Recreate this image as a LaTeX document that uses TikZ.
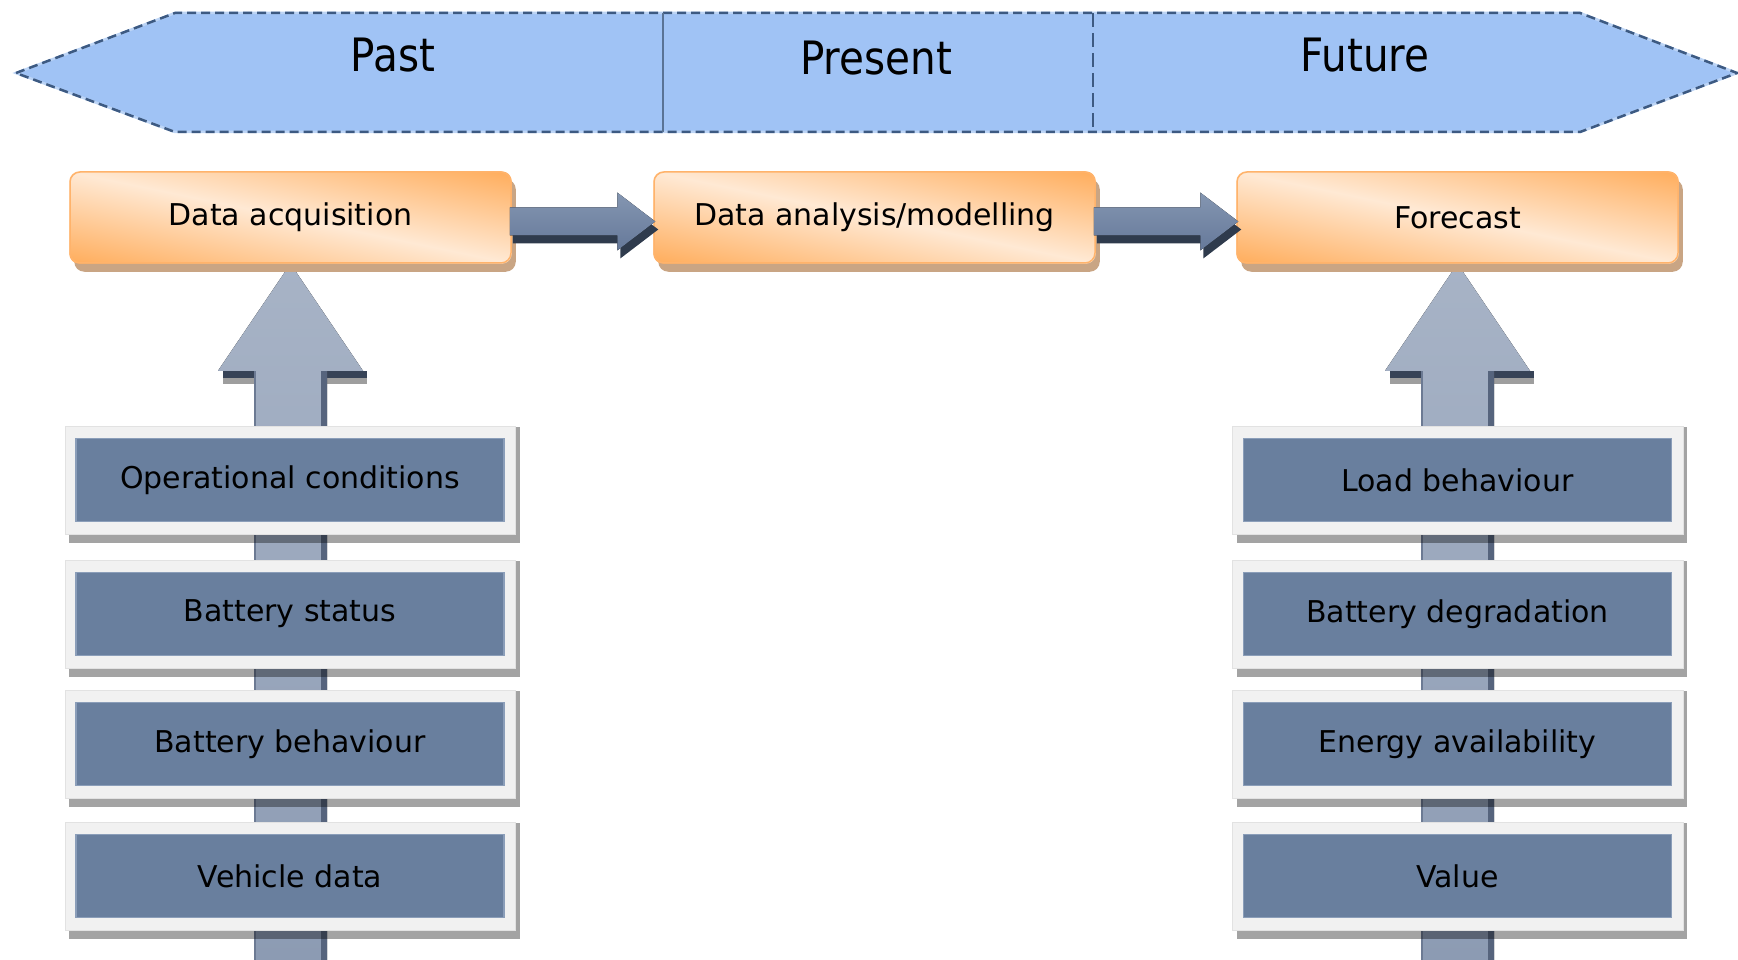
\documentclass[tikz,border=0pt]{standalone}
\usepackage{fontspec}
\setmainfont{DejaVu Sans}
\usetikzlibrary{calc}
\definecolor{bannerfill}{HTML}{A0C3F5}
\definecolor{bannerlight}{HTML}{BCD4F5}
\definecolor{bannerline}{HTML}{3D5A82}
\definecolor{orA}{HTML}{FFAE5E}
\definecolor{orB}{HTML}{FFE9D4}
\definecolor{obord}{HTML}{FFB36B}
\definecolor{oshadow}{HTML}{C9A584}
\definecolor{dbox}{HTML}{697F9E}
\definecolor{dboxl}{HTML}{8B9EB9}
\definecolor{framec}{HTML}{F1F1F1}
\definecolor{framel}{HTML}{E2E2E2}
\definecolor{arrtop}{HTML}{A7B3C6}
\definecolor{arrbot}{HTML}{8C9BB3}
\definecolor{arredge}{HTML}{56647D}
\definecolor{arrdark}{HTML}{374357}
\definecolor{harrtop}{HTML}{8496B1}
\definecolor{harrbot}{HTML}{66799A}
\definecolor{harrsh}{HTML}{2F3B4D}
\pgfdeclarelayer{bg}
\pgfdeclarelayer{mid}
\pgfsetlayers{bg,mid,main}
\newcommand\lblfont{\fontsize{30}{36}\selectfont}
\newcommand\banfont{\fontsize{46}{54}\selectfont}
\tikzset{
  obox/.style={rounded corners=10pt, minimum width=441pt, minimum height=91pt,
    draw=obord, line width=1.5pt, font=\lblfont, inner sep=0pt},
  dboxs/.style={fill=dbox, draw=dboxl, line width=1.5pt, minimum width=428pt,
    minimum height=83pt, inner sep=0pt, font=\lblfont},
  btext/.style={font=\banfont, inner sep=0pt},
  harrow/.style={top color=harrtop, bottom color=harrbot},
  varrow/.style={top color=arrtop, bottom color=arrbot},
}
\newcommand\myframe[1]{%
  \fill[black,opacity=0.36] ($(#1.north west)+(-6,-11)$) rectangle ($(#1.south east)+(15,21)$);
  \fill[framec,draw=framel,line width=1pt] ($(#1.north west)+(-10,-11)$) rectangle ($(#1.south east)+(11,12)$);
}
\newcommand\myshade[1]{%
  \fill[oshadow, rounded corners=10pt] ($(#1.north west)+(5,8)$) rectangle ($(#1.south east)+(4,8)$);
  \begin{scope}
    \clip[rounded corners=10pt] (#1.north west) rectangle (#1.south east);
    \begin{scope}[transform canvas={rotate around={-11.7:(#1.center)}}]
      \shade[top color=orA, bottom color=orA, middle color=orB]
        ($(#1.center)+(-330,-88)$) rectangle ($(#1.center)+(330,88)$);
    \end{scope}
  \end{scope}
}
\newcommand\myharrow[2]{%
  \coordinate (hs) at ($(#1.east)+(-2,4)$);
  \coordinate (he) at ($(#2.west)+(2,4)$);
  \fill[harrsh] ($(hs)+(3,8)$) -- ($(he)+(-35,8)$) -- ($(he)+(-35,-21)$) -- ($(he)+(3,8)$) -- ($(he)+(-35,37)$) -- ($(he)+(-35,22)$) -- ($(hs)+(3,22)$) -- cycle;
  \fill[harrow] ($(hs)+(0,-14)$) -- ($(he)+(-38,-14)$) -- ($(he)+(-38,-29)$) -- (he) -- ($(he)+(-38,29)$) -- ($(he)+(-38,14)$) -- ($(hs)+(0,14)$) -- cycle;
}
\newcommand\myvarrow[2]{%
  \fill[arrdark] ($(#2.south)+(-68,107)$) rectangle ($(#2.south)+(76,114)$);
  \fill[black!38] ($(#2.south)+(-68,114)$) rectangle ($(#2.south)+(76,120)$);
  \fill[varrow] ($(#1)+(-36.5,0)$) -- ($(#2.south)+(-36.5,107)$) -- ($(#2.south)+(-72.5,107)$) -- (#2.south) -- ($(#2.south)+(72.5,107)$) -- ($(#2.south)+(36.5,107)$) -- ($(#1)+(36.5,0)$) -- cycle;
  \fill[arredge] ($(#2.south)+(30,107)$) rectangle ($(#1)+(36.5,0)$);
  \fill[arredge!60!arrbot] ($(#2.south)+(-36.5,107)$) rectangle ($(#1)+(-34.5,0)$);
}
\begin{document}
\begin{tikzpicture}[x=1pt,y=-1pt]
\useasboundingbox (0,0) rectangle (1738,960);
% banner
\fill[bannerfill] (16,73) -- (175,13) -- (1580,13) -- (1737,73) -- (1580,132) -- (175,132) -- cycle;
\draw[bannerlight, line width=2.5pt] (16,73) -- (175,13) -- (1580,13) -- (1737,73) -- (1580,132) -- (175,132) -- cycle;
\draw[bannerline, line width=2.5pt, dash pattern=on 9pt off 5pt] (16,73) -- (175,13) -- (1580,13) -- (1737,73) -- (1580,132) -- (175,132) -- cycle;
\draw[bannerline!85, line width=2.5pt] (663,13) -- (663,132);
\draw[bannerline, line width=2.5pt, dash pattern=on 14pt off 6pt] (1093,13) -- (1093,132);
\node[btext] (past) at (393,55) {\scalebox{0.88}[1]{Past}};
\node[btext] (present) at (876,58) {\scalebox{0.88}[1]{Present}};
\node[btext] (future) at (1365,55) {\scalebox{0.88}[1]{Future}};
% orange boxes
\node[obox] (acq) at (290.5,217.5) {Data acquisition};
\node[obox] (ana) at (874.5,217.5) {Data analysis/modelling};
\node[obox] (fore) at (1457.5,217.5) {Forecast};
% left column
\node[dboxs] (l1) at (290,480) {Operational conditions};
\node[dboxs] (l2) at (290,614) {Battery status};
\node[dboxs] (l3) at (290,744) {Battery behaviour};
\node[dboxs] (l4) at (290,876) {Vehicle data};
% right column
\node[dboxs] (r1) at (1457.5,480) {Load behaviour};
\node[dboxs] (r2) at (1457.5,614) {Battery degradation};
\node[dboxs] (r3) at (1457.5,744) {Energy availability};
\node[dboxs] (r4) at (1457.5,876) {Value};
\coordinate (lbot) at (290.5,962);
\coordinate (rbot) at (1457.5,962);
\begin{pgfonlayer}{mid}
\myshade{acq}\myshade{ana}\myshade{fore}
\myframe{l1}\myframe{l2}\myframe{l3}\myframe{l4}
\myframe{r1}\myframe{r2}\myframe{r3}\myframe{r4}
\end{pgfonlayer}
\begin{pgfonlayer}{bg}
\myvarrow{lbot}{acq}
\myvarrow{rbot}{fore}
\end{pgfonlayer}
\myharrow{acq}{ana}
\myharrow{ana}{fore}
\end{tikzpicture}
\end{document}
